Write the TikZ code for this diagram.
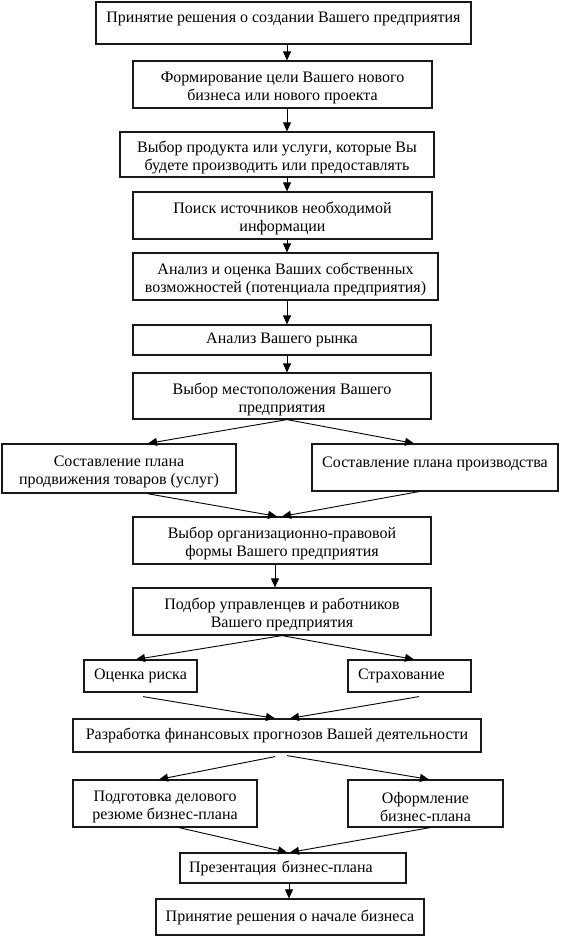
\documentclass[tikz,border=0pt]{standalone}
\usepackage{fontspec}
\setmainfont{Liberation Serif}
\usetikzlibrary{arrows.meta, positioning, calc}

\begin{document}
\begin{tikzpicture}[x=1pt, y=-1pt,
	box/.style={draw=black!90, line width=1.2pt, align=center, inner sep=0pt,
		font=\fontsize{16}{18}\selectfont},
	tall/.style={text height=36pt},
	arr/.style={draw=black, line width=0.9pt, -{Triangle[length=9pt,width=8pt]}}]
	\useasboundingbox (0,0) rectangle (572,936);
	\coordinate (spine) at (287,0);

	% Nodes for the main chain
	\node[box, tall, minimum width=375pt, minimum height=42pt] (Start) at (283.5,23) {Принятие решения о создании Вашего предприятия\\~};
	\node[box, tall, minimum width=299pt, minimum height=47pt] (Goal) at (282.5,84.5) {Формирование цели Вашего нового\\бизнеса или нового проекта};
	\node[box, tall, minimum width=314pt, minimum height=45pt] (Prod) at (277,154.5) {Выбор продукта или услуги, которые Вы\\будете производить или предоставлять};
	\node[box, tall, minimum width=299pt, minimum height=47pt] (Info) at (282.5,215.5) {Поиск источников необходимой\\информации};
	\node[box, tall, minimum width=305pt, minimum height=47pt] (Pot) at (285.5,276.5) {Анализ и оценка Ваших собственных\\возможностей (потенциала предприятия)};
	\node[box, minimum width=298pt, minimum height=30pt] (Mkt) at (282,340) {Анализ Вашего рынка};
	\node[box, tall, minimum width=298pt, minimum height=46pt] (Loc) at (282,396) {Выбор местоположения Вашего\\предприятия};

	% Nodes for the two plans
	\node[box, tall, minimum width=234pt, minimum height=49pt] (Plan-1) at (119,468.5) {Составление плана\\продвижения товаров (услуг)};
	\node[box, tall, minimum width=246pt, minimum height=47pt] (Plan-2) at (435,467.5) {Составление плана производства\\~};

	\node[box, tall, minimum width=298pt, minimum height=47pt] (Form) at (282,540.5) {Выбор организационно-правовой\\формы Вашего предприятия};
	\node[box, tall, minimum width=298pt, minimum height=47pt] (Staff) at (282,611.5) {Подбор управленцев и работников\\Вашего предприятия};

	% Nodes for risk
	\node[box, minimum width=113pt, minimum height=32pt] (Risk-1) at (140.5,676) {Оценка риска};
	\node[box, minimum height=32pt, inner xsep=10pt, text width=103pt, align=left] (Risk-2) at (409.5,676) {Страхование};

	\node[box, minimum width=408pt, minimum height=33pt] (Fin) at (277,735.5) {Разработка финансовых прогнозов Вашей деятельности};

	% Nodes for the business plan
	\node[box, tall, minimum width=184pt, minimum height=47pt] (Res-1) at (165,803.5) {Подготовка делового\\резюме бизнес-плана};
	\node[box, tall, minimum width=155pt, minimum height=47pt] (Res-2) at (425.5,803.5) {Оформление\\бизнес-плана};
	\node[box, minimum height=30pt, inner xsep=9pt, text width=208pt, align=left] (Pres) at (293,868) {Презентация бизнес-плана};
	\node[box, minimum width=268pt, minimum height=36pt] (End) at (290,917) {Принятие решения о начале бизнеса};

	% Edges of the main chain
	\draw[arr] (Start.south -| spine) -- (Goal.north -| spine);
	\draw[arr] (Goal.south -| spine) -- (Prod.north -| spine);
	\draw[arr] (Prod.south -| spine) -- (Info.north -| spine);
	\draw[arr] (Info.south -| spine) -- (Pot.north -| spine);
	\draw[arr] (Pot.south -| spine) -- (Mkt.north -| spine);
	\draw[arr] (Mkt.south -| spine) -- (Loc.north -| spine);

	% Edges to and from the plans
	\draw[arr] (Loc.south -| spine) -- ([xshift=29pt]Plan-1.north);
	\draw[arr] (Loc.south -| spine) -- ([xshift=-21pt]Plan-2.north);
	\draw[arr] ([xshift=28pt]Plan-1.south) -- ([xshift=-5pt]Form.north);
	\draw[arr] ([xshift=-16pt]Plan-2.south) -- (Form.north);
	\draw[arr] ([xshift=-7pt]Form.south) -- ([xshift=-7pt]Staff.north);

	% Edges to and from risk
	\draw[arr] (Staff.south) -- ([xshift=-4.5pt]Risk-1.north);
	\draw[arr] (Staff.south) -- ([xshift=4.5pt]Risk-2.north);
	\draw[arr] ([xshift=2.5pt,yshift=-4pt]Risk-1.south) -- ([xshift=-2pt]Fin.north);
	\draw[arr] ([xshift=9.5pt,yshift=-4pt]Risk-2.south) -- ([xshift=13pt]Fin.north);

	% Edges to and from the business plan
	\draw[arr] ([xshift=-2pt,yshift=-4pt]Fin.south) -- ([xshift=-6pt]Res-1.north);
	\draw[arr] ([xshift=10pt,yshift=-3pt]Fin.south) -- ([xshift=3.5pt]Res-2.north);
	\draw[arr] ([xshift=14pt]Res-1.south) -- ([xshift=-6pt]Pres.north);
	\draw[arr] ([xshift=4.5pt]Res-2.south) -- ([xshift=-3pt]Pres.north);
	\draw[arr] ([xshift=-4pt]Pres.south) -- ([xshift=-1pt]End.north);
\end{tikzpicture}
\end{document}
